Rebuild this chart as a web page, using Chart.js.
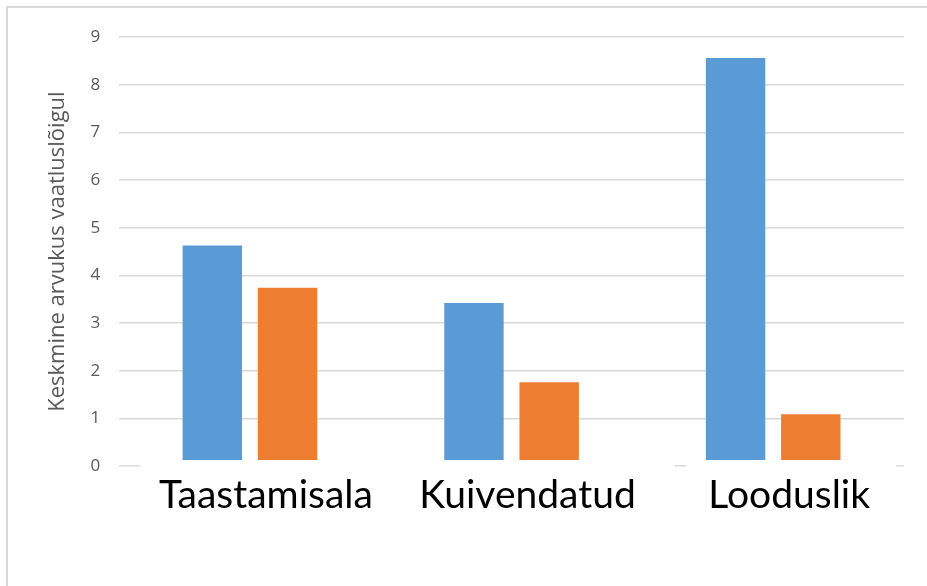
<!DOCTYPE html>
<html>
<head>
<meta charset="utf-8">
<script src="https://cdn.jsdelivr.net/npm/chart.js@4"></script>
<style>
  html, body { margin: 0; padding: 0; background: #fff; overflow: hidden; }
  #frame { position: absolute; left: 6px; top: 6px; width: 940px; height: 600px;
           border: 2px solid #d9d9d9; box-sizing: border-box; }
  #wrap { position: absolute; left: 0; top: 0; width: 927px; height: 586px; }
</style>
</head>
<body>
<div id="frame"></div>
<div id="wrap"><canvas id="c" width="927" height="586"></canvas></div>
<script>
const categories = ["Taastamisala", "Kuivendatud", "Looduslik"];
const seriesA = [4.63, 3.42, 8.56];
const seriesB = [3.74, 1.76, 1.09];
const yTicks = [0, 1, 2, 3, 4, 5, 6, 7, 8, 9];
const yTitle = "Keskmine arvukus vaatluslõigul";

// white patch that hides the bottom of the plot where the labels were pasted over
const maskPlugin = {
  id: 'labelMask',
  afterDatasetsDraw(chart, args, opts) {
    const { ctx, chartArea, scales } = chart;
    const w = chartArea.right - chartArea.left;
    const yTop = scales.y.getPixelForValue(opts.fromValue);
    const yBot = scales.y.getPixelForValue(0) + 4;
    ctx.save();
    ctx.fillStyle = '#ffffff';
    opts.spans.forEach(([a, b]) => {
      ctx.fillRect(chartArea.left + a * w, yTop, (b - a) * w, yBot - yTop);
    });
    ctx.restore();
  }
};

new Chart(document.getElementById('c'), {
  type: 'bar',
  data: {
    labels: categories,
    datasets: [
      { label: 'A', data: seriesA, backgroundColor: '#5B9BD5', borderWidth: 0,
        barPercentage: 0.79, categoryPercentage: 0.575 },
      { label: 'B', data: seriesB, backgroundColor: '#ED7D31', borderWidth: 0,
        barPercentage: 0.79, categoryPercentage: 0.575 }
    ]
  },
  options: {
    responsive: false,
    animation: false,
    devicePixelRatio: 1,
    layout: { padding: { left: 45, right: 23, top: 37, bottom: 61 } },
    plugins: {
      legend: { display: false },
      tooltip: { enabled: false },
      labelMask: { fromValue: 0.13, spans: [[0.0266, 0.708], [0.723, 0.99]] }
    },
    scales: {
      x: {
        grid: { display: false, drawTicks: false },
        border: { display: false },
        ticks: { color: '#000000', font: { family: 'Lato', size: 39 }, padding: 6,
                 maxRotation: 0, labelOffset: 16 }
      },
      y: {
        min: 0, max: 9,
        afterBuildTicks(scale) { scale.ticks = yTicks.map(v => ({ value: v })); },
        grid: { color: '#d9d9d9', lineWidth: 1.5, drawTicks: false },
        border: { display: false },
        ticks: { color: '#595959', font: { family: 'Open Sans', size: 17 }, padding: 19 },
        title: { display: true, text: yTitle, color: '#595959',
                 font: { family: 'Open Sans', size: 22 }, padding: 0 }
      }
    }
  },
  plugins: [maskPlugin]
});
</script>
</body>
</html>
